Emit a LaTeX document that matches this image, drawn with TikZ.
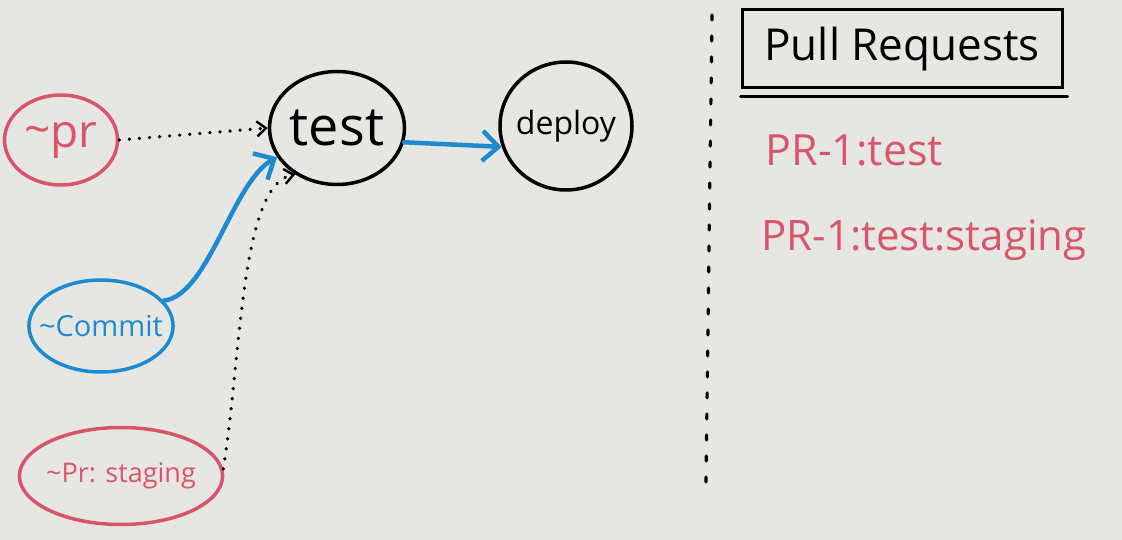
\documentclass[tikz,border=0pt]{standalone}
\usepackage{fontspec}
\setmainfont{Open Sans}
\usepackage{xcolor}
\usepackage{tikz}
\usetikzlibrary{positioning,shapes.geometric,arrows.meta}

\definecolor{board}{HTML}{E6E6E3}
\definecolor{markerred}{HTML}{D9566A}
\definecolor{markerblue}{HTML}{1E8AD0}

\begin{document}
\begin{tikzpicture}[x=1pt, y=-1pt,
    bubble/.style={ellipse, draw, line width=3.5pt, inner sep=0pt},
    dotarrow/.style={line width=3.6pt, line cap=round, dash pattern=on 0.1pt off 10pt,
        -{Straight Barb[length=9pt,width=15pt,line width=2.4pt]}},
    bluearrow/.style={markerblue, line width=4.5pt, line cap=round,
        -{Straight Barb[length=16pt,width=30pt,line width=4.5pt]}}]

% whiteboard
\fill[board] (0,0) rectangle (1122,540);
\useasboundingbox (0,0) rectangle (1122,540);

% LEFT: triggers
\node[bubble, draw=markerred, text=markerred, minimum width=113pt, minimum height=90pt,
      font=\fontsize{46}{50}\selectfont] (pr) at (61,140) {\raisebox{2pt}{\textasciitilde}pr};
\node[bubble, draw=markerblue, text=markerblue, minimum width=142pt, minimum height=92pt,
      inner xsep=-11pt, font=\fontsize{29}{32}\selectfont] (commit) at (101,326) {\textasciitilde Commit};
\node[bubble, draw=markerred, text=markerred, minimum width=202pt, minimum height=97pt,
      inner xsep=-3pt, font=\fontsize{27}{30}\selectfont] (staging) at (121,476) {\textasciitilde Pr: staging};

% MIDDLE: pipeline
\node[bubble, draw=black, minimum width=135pt, minimum height=113pt,
      inner xsep=-2pt, font=\fontsize{54}{58}\selectfont] (test) at (337,128) {test};
\node[bubble, draw=black, minimum width=132pt, minimum height=128pt,
      inner xsep=-8pt, font=\fontsize{32}{36}\selectfont] (deploy) at (566,126) {deploy};

% connectors
\draw[dotarrow] (pr.east) -- (test.west);
\draw[bluearrow] (commit.22) .. controls +(45,-5) and +(-45,25) .. (test.206);
\draw[dotarrow] (staging.4) .. controls +(18,-110) and +(-55,10) .. (test.228);
\draw[bluearrow] (test.-12) -- (deploy.198);

% divider
\coordinate (divtop) at (712,15);
\coordinate (divbot) at (706,482);
\draw[line width=3.2pt, line cap=round, dash pattern=on 5pt off 16pt] (divtop) -- (divbot);

% RIGHT: pull request list
\node[draw, line width=3pt, minimum width=320pt, minimum height=78pt,
      font=\fontsize{44}{48}\selectfont] (prtitle) at (902,49) {Pull Requests};
\draw[line width=3pt, line cap=round] ([yshift=-7pt]prtitle.south west) -- ([yshift=-7pt,xshift=4pt]prtitle.south east);
\node[anchor=west, text=markerred, font=\fontsize{43}{46}\selectfont] (prone) at (762,150) {PR-1:test};
\node[anchor=west, text=markerred, font=\fontsize{42}{46}\selectfont] (prtwo) at (758,240) {PR-1:test:staging};

\end{tikzpicture}
\end{document}
